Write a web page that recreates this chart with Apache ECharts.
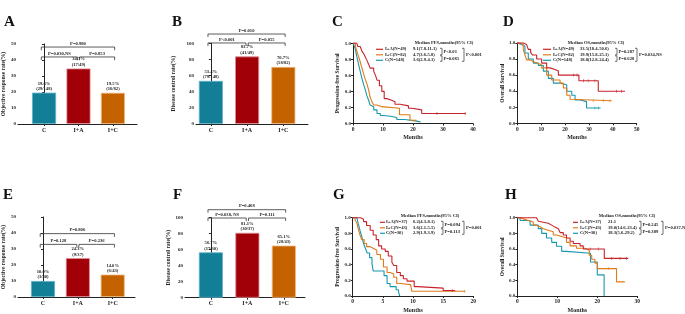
<!DOCTYPE html>
<html>
<head>
<meta charset="utf-8">
<script src="https://cdn.jsdelivr.net/npm/echarts@6/dist/echarts.min.js"></script>
<style>html,body{margin:0;padding:0;background:#fff}#main{width:685px;height:314px}</style>
</head>
<body>
<div id="main"></div>
<script>
// 分组
var groups = ['C', 'I+A', 'I+C'];
// A: ORR 全部患者
var orrAll = [19.6, 34.7, 19.5];
var orrAllN = ['29/148', '17/49', '16/82'];
var orrAllP = ['P=0.030,NS', 'P=0.853', 'P=0.980'];
// B: DCR 全部患者
var dcrAll = [53.4, 83.7, 70.7];
var dcrAllN = ['79/148', '41/49', '58/82'];
var dcrAllP = ['P<0.001', 'P=0.055', 'P=0.010'];
// E: ORR 亚组
var orrSub = [10.0, 24.3, 14.0];
var orrSubN = ['3/30', '9/37', '6/43'];
var orrSubP = ['P=0.128', 'P=0.236', 'P=0.806'];
// F: DCR 亚组
var dcrSub = [56.7, 81.1, 65.1];
var dcrSubN = ['17/30', '30/37', '28/43'];
var dcrSubP = ['P=0.038, NS', 'P=0.111', 'P=0.468'];

// KM 曲线 [月, 生存率]  顺序: I+A, I+C, C
var pfsAllIA = [[0,1],[1.3,1],[1.6,0.96],[2.4,0.94],[3,0.9],[3.5,0.875],[4.1,0.83],[4.6,0.79],[5.2,0.74],[5.7,0.69],[6.9,0.65],[7.5,0.6],[8,0.54],[8.8,0.47],[9.6,0.4],[10.4,0.31],[11.3,0.29],[12.9,0.27],[14,0.24],[15.7,0.22],[18.5,0.19],[19.6,0.17],[22.9,0.125],[37.6,0.125]];
var pfsAllIC = [[0,1],[0.5,1],[0.8,0.96],[1.3,0.9],[1.9,0.83],[2.4,0.77],[3,0.69],[3.5,0.625],[4.1,0.55],[4.6,0.5],[5.2,0.42],[5.7,0.33],[6.3,0.27],[6.9,0.23],[8,0.21],[9.6,0.19],[15.5,0.11],[19,0.04],[21.2,0.04]];
var pfsAllC = [[0,1],[0.4,0.97],[0.8,0.92],[1.3,0.83],[1.9,0.73],[2.4,0.65],[3,0.56],[3.5,0.49],[4.1,0.42],[4.6,0.35],[5.2,0.29],[5.7,0.23],[6.3,0.21],[6.9,0.17],[8,0.125],[9.1,0.1],[10.2,0.09],[12.4,0.075],[14.6,0.05],[17.3,0.03],[21.2,0.02],[22.5,0.02]];
var osAllIA = [[0,1],[2.5,1],[3.2,0.98],[3.9,0.96],[4.6,0.92],[5.6,0.88],[6.4,0.85],[8.1,0.8],[10.2,0.75],[12.3,0.69],[13.7,0.67],[15.8,0.65],[17.2,0.6],[25.8,0.53],[33.9,0.4],[45.1,0.4]];
var osAllIC = [[0,1],[1.1,0.98],[2.5,0.92],[3.2,0.85],[3.9,0.79],[5.3,0.77],[6.7,0.75],[8.1,0.73],[10.2,0.69],[12.3,0.6],[14.4,0.54],[17.9,0.5],[19.3,0.44],[20.7,0.35],[22.1,0.3],[22.8,0.28],[39.5,0.28]];
var osAllC = [[0,1],[0.4,0.98],[1.8,0.96],[3.2,0.875],[4.6,0.8],[6.7,0.75],[8.8,0.72],[10.9,0.65],[13,0.56],[15.1,0.5],[17.9,0.48],[20.7,0.4],[22.8,0.35],[24.2,0.29],[26.3,0.27],[29,0.19],[34.9,0.19]];
var pfsSubIA = [[0,1],[0.9,1],[1.3,0.98],[1.8,0.95],[2.3,0.9],[2.9,0.84],[3.4,0.78],[3.9,0.72],[4.3,0.64],[4.8,0.6],[5.4,0.57],[5.9,0.51],[6.5,0.43],[6.8,0.39],[7.3,0.3],[7.9,0.26],[8.4,0.22],[9,0.19],[10.2,0.12],[10.8,0.1],[15,0.07],[17,0.07]];
var pfsSubIC = [[0,1],[0.4,0.97],[0.7,0.93],[0.9,0.86],[1.2,0.78],[1.5,0.72],[1.9,0.67],[2.3,0.63],[2.9,0.61],[3.4,0.585],[4,0.53],[4.6,0.47],[5.1,0.37],[5.7,0.3],[6.2,0.28],[6.8,0.24],[7.3,0.16],[7.9,0.145],[9.6,0.125],[9.8,0.06],[18.7,0.06]];
var pfsSubC = [[0,1],[0.7,0.99],[0.9,0.93],[1.2,0.84],[1.5,0.76],[1.8,0.67],[2.1,0.61],[2.4,0.55],[2.8,0.49],[3.2,0.41],[3.4,0.32],[5.2,0.26],[5.7,0.16],[6.2,0.12],[7.2,0.08],[7.6,0.05],[7.8,0]];
var osSubIA = [[0,1],[3.8,1],[4.8,0.975],[5.25,0.955],[5.7,0.93],[7.75,0.905],[8.6,0.88],[9.4,0.86],[10.25,0.84],[10.7,0.81],[11.5,0.78],[12.3,0.74],[13.2,0.7],[14,0.67],[15.7,0.64],[16.5,0.6],[21.75,0.48],[27.75,0.48]];
var osSubIC = [[0,1],[0.7,0.985],[1.5,0.965],[2.75,0.945],[4,0.905],[4.8,0.885],[5.7,0.86],[6.5,0.84],[7.75,0.82],[9,0.78],[9.8,0.76],[11.1,0.74],[12.3,0.685],[13.2,0.64],[14.8,0.61],[16.9,0.585],[18,0.52],[18.6,0.47],[19.4,0.42],[20,0.35],[24.8,0.18],[26.9,0.18]];
var osSubC = [[0,1],[0.7,0.965],[3.2,0.905],[5.25,0.86],[6.1,0.8],[7.3,0.74],[8.6,0.685],[9.8,0.635],[11.1,0.57],[12.2,0.545],[18.3,0.435],[20,0.27],[21.7,0]];

// 删失标记 [月, 生存率]
var pfsAllCens = [[[28, 0.125], [37.4, 0.125]], [], []];
var osAllCens = [[[23.5, 0.6], [25, 0.6], [27.7, 0.53], [29.7, 0.53], [32.5, 0.53], [41.6, 0.4], [43.7, 0.4]],
	[[31.8, 0.28], [36, 0.28], [38.8, 0.28]], [[32.5, 0.19], [34, 0.19]]];
var pfsSubCens = [[[16.5, 0.07]], [[18.5, 0.06]], []];
var osSubCens = [[[18.2, 0.6], [20.25, 0.6], [23.6, 0.48], [25.7, 0.48], [27.3, 0.48]], [[22.75, 0.35]], []];

// 图例文字
var kmNamesAll = ['I+A(N=49)', 'I+C(N=82)', 'C(N=148)'];
var kmNamesSub = ['I+A(N=37)', 'I+C(N=43)', 'C(N=30)'];
var pfsAllMed = ['9.1(7.8-11.1)', '4.7(3.6-5.8)', '3.6(2.9-4.1)'];
var pfsAllP = ['P<0.01', 'P=0.065', 'P<0.001'];
var osAllMed = ['33.5(18.4-50.6)', '19.9(15.8-25.1)', '18.8(12.8-24.4)'];
var osAllP = ['P=0.287', 'P=0.628', 'P=0.034,NS'];
var pfsSubMed = ['6.2(4.3-8.1)', '3.6(2.1-5.5)', '2.9(1.9-3.9)'];
var pfsSubP = ['P=0.094', 'P=0.113', 'P=0.001'];
var osSubMed = ['21.1', '19.0(14.6-23.4)', '18.3(5.6-29.2)'];
var osSubP = ['P=0.245', 'P=0.389', 'P=0.037,NS'];

var FONT = 'Liberation Serif';
var INK = '#222';
var barColors = ['#137f97', '#a10008', '#c46200'];
var barEdges = ['#5fb3c6', '#e08c92', '#f0b67a'];
var kmColors = ['#c8232c', '#e07b1a', '#1798b0'];

var grids = [], xAxes = [], yAxes = [], series = [], graphics = [];

function tStyle(size) {
	return {fontFamily: FONT, fontWeight: 'bold', fontSize: size, color: INK};
}
function gText(x, y, s, size, align) {
	graphics.push({type: 'text', x: x, y: y, silent: true, style: {
		text: s, fill: INK, fontFamily: FONT, fontWeight: 'bold', fontSize: size,
		textAlign: align || 'left', textVerticalAlign: 'middle'}});
}
function gPoly(pts, color, w) {
	graphics.push({type: 'polyline', silent: true, shape: {points: pts},
		style: {stroke: color || '#333', lineWidth: w || 0.7, fill: null}});
}

//柱状图面板
function barPanel(i, box, xr, ymax, yint, yname, ngap, vals, ns, ps, lv) {
	grids.push({left: box[0], top: box[1], width: box[2], height: box[3]});
	xAxes.push({
		gridIndex: i, type: 'value', min: xr[0], max: xr[1],
		axisLine: {lineStyle: {color: INK, width: 1}},
		axisTick: {show: true, customValues: [0, 1, 2], length: 2, lineStyle: {color: INK}},
		axisLabel: Object.assign({customValues: [0, 1, 2], margin: 3, formatter: function (v) { return groups[Math.round(v)]; }}, tStyle(6)),
		splitLine: {show: false}
	});
	yAxes.push({
		gridIndex: i, type: 'value', min: 0, max: ymax, interval: yint,
		name: yname, nameLocation: 'middle', nameGap: ngap, nameTextStyle: tStyle(5.5),
		axisLine: {show: true, lineStyle: {color: INK, width: 1}},
		axisTick: {show: true, length: 2, lineStyle: {color: INK}},
		axisLabel: Object.assign({margin: 2}, tStyle(5)),
		splitLine: {show: false}
	});
	var d = vals.map(function (v, k) {
		return {value: [k, v],
			itemStyle: {color: barColors[k], borderColor: barEdges[k], borderWidth: 0.8},
			label: {formatter: v.toFixed(1) + '%\n(' + ns[k] + ')'}};
	});
	series.push({
		type: 'bar', xAxisIndex: i, yAxisIndex: i, barWidth: 24, clip: false, data: d,
		label: Object.assign({show: true, position: 'top', distance: 1, lineHeight: 5.5, align: 'center'}, tStyle(4.6))
	});
	// 比较括号
	var spans = [[-0.08, 0.97, lv[0]], [1.03, 2.05, lv[0]], [-0.08, 2.05, lv[1]]];
	spans.forEach(function (s, k) {
		var y = s[2], h = lv[2];
		series.push({
			type: 'line', xAxisIndex: i, yAxisIndex: i, clip: false, silent: true, animation: false,
			symbol: 'circle', symbolSize: 0, showSymbol: true, z: 4,
			lineStyle: {color: '#333', width: 0.8},
			label: Object.assign({show: false, position: 'top', distance: 1}, tStyle(4.6)),
			data: [[s[0], y - h], [s[0], y],
				{value: [(s[0] + s[1]) / 2, y], label: {show: true, formatter: ps[k]}},
				[s[1], y], [s[1], y - h]]
		});
	});
}

//生存曲线面板
function kmPanel(i, box, xmax, xint, yname, ngap, curves, cens, names, meds, ps, title, lg) {
	grids.push({left: box[0], top: box[1], width: box[2], height: box[3]});
	xAxes.push({
		gridIndex: i, type: 'value', min: 0, max: xmax, interval: xint,
		name: 'Months', nameLocation: 'middle', nameGap: 11, nameTextStyle: tStyle(6),
		axisLine: {lineStyle: {color: INK, width: 1}},
		axisTick: {show: true, length: 2, lineStyle: {color: INK}},
		axisLabel: Object.assign({margin: 3}, tStyle(5.5)),
		splitLine: {show: false}
	});
	yAxes.push({
		gridIndex: i, type: 'value', min: 0, max: 1, interval: 0.2,
		name: yname, nameLocation: 'middle', nameGap: ngap, nameTextStyle: tStyle(5.5),
		axisLine: {show: true, lineStyle: {color: INK, width: 1}},
		axisTick: {show: true, length: 2, lineStyle: {color: INK}},
		axisLabel: Object.assign({margin: 2, formatter: function (v) { return v.toFixed(1); }}, tStyle(5)),
		splitLine: {show: false}
	});
	curves.forEach(function (c, k) {
		series.push({
			type: 'line', xAxisIndex: i, yAxisIndex: i, step: 'end', showSymbol: false,
			clip: false, data: c, z: 5 - k, animation: false,
			lineStyle: {color: kmColors[k], width: 1.1}
		});
		if (cens[k].length) {
			series.push({
				type: 'scatter', xAxisIndex: i, yAxisIndex: i, data: cens[k], silent: true,
				symbol: 'rect', symbolSize: [0.7, 3], z: 5 - k, animation: false,
				itemStyle: {color: kmColors[k]}
			});
		}
	});
	// 图例
	var rows = [lg.ty + 6.3, lg.ty + 11.8, lg.ty + 17.3];
	gText(lg.x + lg.tc, lg.ty, title, 4.6, 'center');
	rows.forEach(function (r, k) {
		graphics.push({type: 'line', silent: true, shape: {x1: lg.x, y1: r, x2: lg.x + lg.sw, y2: r},
			style: {stroke: kmColors[k], lineWidth: 1.2}});
		gText(lg.x + lg.lx, r, names[k], 4.6);
		gText(lg.x + lg.vx, r, meds[k], 4.6);
	});
	var b = lg.x + lg.br, B = lg.x + lg.big;
	gPoly([[b - 2, rows[0] - 1], [b, rows[0] - 1], [b, rows[1]], [b - 2, rows[1]]]);
	gText(b + 1.5, (rows[0] + rows[1]) / 2 - 0.5, ps[0], 4.6);
	gPoly([[b - 2, rows[1] + 1], [b, rows[1] + 1], [b, rows[2] + 1], [b - 2, rows[2] + 1]]);
	gText(b + 1.5, (rows[1] + rows[2]) / 2 + 1.5, ps[1], 4.6);
	gPoly([[B - 2, rows[0] - 1], [B, rows[0] - 1], [B, rows[2] + 1], [B - 2, rows[2] + 1]]);
	gText(B + 2, rows[1], ps[2], 4.6);
}

barPanel(0, [14, 44, 123, 80], [-0.76, 2.70], 50, 10, 'Objective response rate(%)', 7.5, orrAll, orrAllN, orrAllP, [41.9, 48.1, 2]);
barPanel(1, [196, 43.3, 112, 80.7], [-0.41, 2.68], 100, 20, 'Disease control rate(%)', 19, dcrAll, dcrAllN, dcrAllP, [100.4, 111.5, 3.7]);
kmPanel(2, [353, 43.3, 120, 80.2], 40, 10, 'Progression-free Survival', 9, [pfsAllIA, pfsAllIC, pfsAllC], pfsAllCens,
	kmNamesAll, pfsAllMed, pfsAllP, 'Median PFS,months(95% CI)', {x: 376, ty: 43, sw: 7, lx: 9, vx: 37, tc: 68, br: 66, big: 88});
kmPanel(3, [517.3, 43, 119.4, 80.3], 50, 10, 'Overall Survival', 10, [osAllIA, osAllIC, osAllC], osAllCens,
	kmNamesAll, osAllMed, osAllP, 'Median OS,months(95% CI)', {x: 543, ty: 43, sw: 8, lx: 10, vx: 37, tc: 53, br: 74, big: 94});
barPanel(4, [14, 217, 121, 80], [-0.72, 2.64], 50, 10, 'Objective response rate(%)', 7.5, orrSub, orrSubN, orrSubP, [32.9, 39.6, 2]);
barPanel(5, [185, 217.7, 120, 80], [-0.71, 2.58], 100, 20, 'Disease control rate(%)', 10, dcrSub, dcrSubN, dcrSubP, [99.6, 110, 3.7]);
kmPanel(6, [352.7, 217.7, 120.6, 80.3], 20, 5, 'Progression-free Survival', 12, [pfsSubIA, pfsSubIC, pfsSubC], pfsSubCens,
	kmNamesSub, pfsSubMed, pfsSubP, 'Median PFS,months(95% CI)', {x: 380, ty: 216, sw: 5, lx: 6, vx: 33, tc: 50, br: 63, big: 84});
kmPanel(7, [517.3, 217.7, 120, 80.3], 30, 10, 'Overall Survival', 10, [osSubIA, osSubIC, osSubC], osSubCens,
	kmNamesSub, osSubMed, osSubP, 'Median OS,months(95% CI)', {x: 573, ty: 216, sw: 5, lx: 7, vx: 35, tc: 54, br: 68, big: 90});

// 面板字母
[['A', 4, 15], ['B', 172, 15], ['C', 332, 15], ['D', 503, 15],
 ['E', 3, 188], ['F', 173, 188], ['G', 333, 188], ['H', 505, 188]].forEach(function (l) {
	graphics.push({type: 'text', x: l[1], y: l[2], silent: true, style: {
		text: l[0], fill: '#111', fontFamily: FONT, fontWeight: 'bold', fontSize: 15, textVerticalAlign: 'alphabetic'}});
});

var myChart = echarts.init(document.getElementById('main'), null, {renderer: 'canvas'});
myChart.setOption({
	animation: false,
	backgroundColor: '#fff',
	grid: grids,
	xAxis: xAxes,
	yAxis: yAxes,
	series: series,
	graphic: graphics
});
</script>
</body>
</html>
